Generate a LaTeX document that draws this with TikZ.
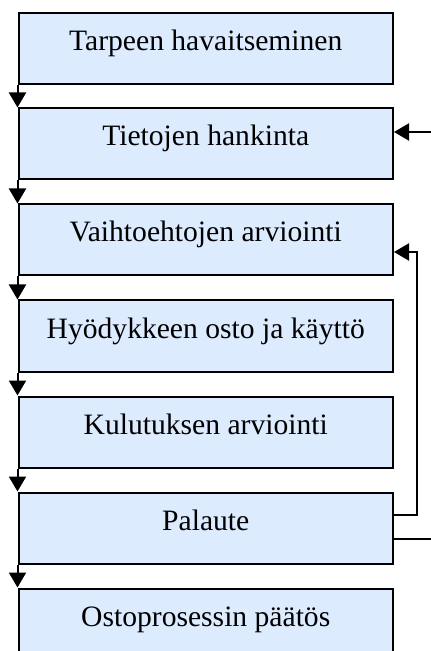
\documentclass[tikz,border=0pt]{standalone}
\usepackage{fontspec}
\setmainfont{Liberation Serif}
\usetikzlibrary{arrows.meta}
\definecolor{boxfill}{RGB}{221,235,255}
\tikzset{
  stage/.style={draw=black, fill=boxfill, line width=1pt, rectangle,
    anchor=north west, inner sep=0pt, minimum width=187.25pt,
    text height=18.75pt, text depth=16.75pt,
    font=\fontsize{14.8}{17}\selectfont},
  flow/.style={line width=1pt, -{Triangle[width=8.5pt,length=7.5pt]}},
  wire/.style={line width=1pt}
}
\begin{document}
\begin{tikzpicture}[x=0.5pt,y=-0.5pt]
\useasboundingbox (0,0) rectangle (430,651);
\begin{scope}
\clip (0,0) rectangle (430,651);
\node[stage] (b1) at (17.5,12)  {Tarpeen havaitseminen};
\node[stage] (b2) at (17.5,107.5) {Tietojen hankinta};
\node[stage] (b3) at (17.5,203.5) {Vaihtoehtojen arviointi};
\node[stage] (b4) at (17.5,299.5) {Hyödykkeen osto ja käyttö};
\node[stage] (b5) at (17.5,395.5) {Kulutuksen arviointi};
\node[stage] (b6) at (17.5,491.5) {Palaute};
\node[stage] (b7) at (17.5,587.5) {Ostoprosessin päätös};
\end{scope}
% downward flow along the left edge
\draw[flow] (b1.south west) -- (b2.north west);
\draw[flow] (b2.south west) -- (b3.north west);
\draw[flow] (b3.south west) -- (b4.north west);
\draw[flow] (b4.south west) -- (b5.north west);
\draw[flow] (b5.south west) -- (b6.north west);
\draw[flow] (b6.south west) -- (b7.north west);
% external input into information search
\coordinate (inA) at (431,132);
\draw[flow] (inA) -- (b2.east |- inA);
% feedback loop back to evaluation of alternatives
\coordinate (fbA) at (392,515);
\coordinate (fbB) at (416.5,252);
\draw[flow] (b6.east |- fbA) -| (fbB) -- (b3.east |- fbB);
% outgoing line from feedback
\coordinate (outA) at (431,539);
\draw[wire] (b6.east |- outA) -- (outA);
\end{tikzpicture}
\end{document}
